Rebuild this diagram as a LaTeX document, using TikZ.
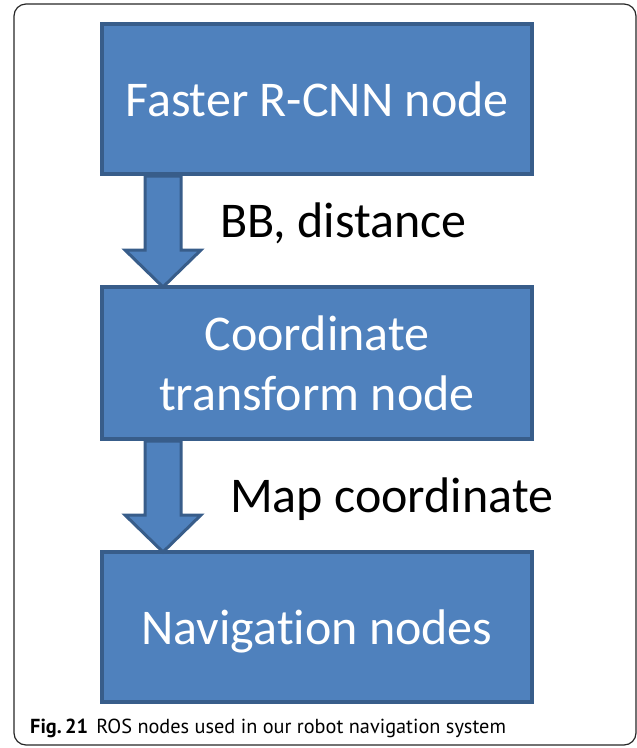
\documentclass[tikz,border=0pt]{standalone}
\usepackage{fontspec}
\setmainfont{Carlito}[Ligatures=NoCommon]
\newfontfamily\captionfont{PT Sans}
\usetikzlibrary{positioning, calc}
\definecolor{boxblue}{HTML}{4F81BD}
\definecolor{edgeblue}{HTML}{385D8A}
\tikzset{
    rosbox/.style={rectangle, draw=edgeblue, line width=4pt, fill=boxblue, minimum width=430pt, minimum height=150pt, align=center, text=white, font=\fontsize{50}{60}\selectfont},
    flowarrow/.style={draw=edgeblue, line width=3pt, fill=boxblue, line join=miter},
    msglabel/.style={anchor=base west, inner sep=0pt, font=\fontsize{50}{60}\selectfont},
    frame/.style={draw=black!85, line width=1.2pt, rounded corners=12pt}
}

\begin{document}
\begin{tikzpicture}[x=1pt, y=-1pt, node distance=109pt]
    \useasboundingbox (0,0) rectangle (637,748);
    \draw[frame] (14,4) rectangle (636,745);
    \node[rosbox] (faster) at (317,99) {Faster R-CNN node};
    \node[rosbox, below=of faster, minimum height=152pt] (transform) {Coordinate\\transform node};
    \node[rosbox, below=of transform, text depth=0pt] (navigation) {Navigation nodes};
    % block arrows between the nodes
    \draw[flowarrow] ($(faster.south)+(-172,0)$) -- ($(faster.south)+(-136,0)$)
        -- ($(transform.north)+(-136,-35)$) -- ($(transform.north)+(-116,-35)$)
        -- ($(transform.north)+(-154,2)$)
        -- ($(transform.north)+(-192,-35)$) -- ($(transform.north)+(-172,-35)$) -- cycle;
    \draw[flowarrow] ($(transform.south)+(-172,0)$) -- ($(transform.south)+(-136,0)$)
        -- ($(navigation.north)+(-136,-35)$) -- ($(navigation.north)+(-116,-35)$)
        -- ($(navigation.north)+(-154,2)$)
        -- ($(navigation.north)+(-192,-35)$) -- ($(navigation.north)+(-172,-35)$) -- cycle;
    % message labels
    \node[msglabel] (bblabel) at (220,237) {BB, distance};
    \node[msglabel] (maplabel) at (230,512) {Map coordinate};
    \node[anchor=base west, inner sep=0pt, font=\captionfont\fontsize{20.3}{24}\selectfont] (caption) at (30,733)
        {\textbf{Fig.\,21}\hspace{8pt}ROS nodes used in our robot navigation system};
\end{tikzpicture}
\end{document}
